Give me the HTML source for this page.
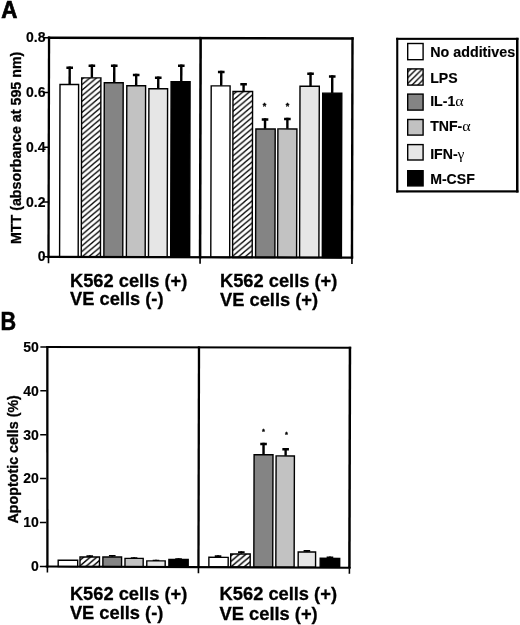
<!DOCTYPE html>
<html><head><meta charset="utf-8"><title>Figure</title>
<style>
html,body{margin:0;padding:0;background:#fff}
svg{display:block}
text{font-family:"Liberation Sans",sans-serif;fill:#000}
.g{font-family:"Liberation Serif","DejaVu Serif",serif;font-weight:normal;font-size:15.5px;stroke:none}
</style></head><body>
<svg width="520" height="625" viewBox="0 0 520 625">
<defs>
<pattern id="hA1" patternUnits="userSpaceOnUse" width="6.57" height="5.57" patternTransform="translate(1.5,2.45)">
<rect width="6.57" height="5.57" fill="#fff"/>
<path d="M-6.57,11.14 L13.14,-5.57 M-6.57,5.57 L6.57,-5.57 M0,11.14 L13.14,0" stroke="#000" stroke-width="1.25" fill="none"/>
</pattern>
<pattern id="hA2" patternUnits="userSpaceOnUse" width="6.57" height="5.57" patternTransform="translate(1.5,0.95)">
<rect width="6.57" height="5.57" fill="#fff"/>
<path d="M-6.57,11.14 L13.14,-5.57 M-6.57,5.57 L6.57,-5.57 M0,11.14 L13.14,0" stroke="#000" stroke-width="1.25" fill="none"/>
</pattern>
<pattern id="hatch" patternUnits="userSpaceOnUse" width="6.6" height="5.6" patternTransform="translate(1.5,0)">
<rect width="6.6" height="5.6" fill="#fff"/>
<path d="M-6.6,11.2 L13.2,-5.6 M-6.6,5.6 L6.6,-5.6 M0,11.2 L13.2,0" stroke="#000" stroke-width="1.45" fill="none"/>
</pattern>
<pattern id="hatch2" patternUnits="userSpaceOnUse" width="5.8" height="5.8" patternTransform="translate(410.1,69.6)">
<rect width="5.8" height="5.8" fill="#fff"/>
<path d="M-5.8,11.6 L11.6,-5.8 M-5.8,5.8 L5.8,-5.8 M0,11.6 L11.6,0" stroke="#000" stroke-width="1.35" fill="none"/>
</pattern>
</defs>
<rect width="520" height="625" fill="#fff"/>
<g transform="rotate(0.14 47.7 36.6)">
<rect x="68.57" y="66.45" width="2.40" height="17.75" fill="#000" />
<rect x="66.47" y="66.45" width="6.60" height="2.40" fill="#000" />
<rect x="60.12" y="84.40" width="18.60" height="172.60" fill="#fff" stroke="#000" stroke-width="1.4"/>
<rect x="90.77" y="64.39" width="2.40" height="13.20" fill="#000" />
<rect x="88.67" y="64.39" width="6.60" height="2.40" fill="#000" />
<rect x="81.80" y="77.79" width="19.20" height="179.21" fill="url(#hA1)" stroke="#000" stroke-width="1.4"/>
<rect x="113.12" y="64.34" width="2.40" height="18.00" fill="#000" />
<rect x="111.02" y="64.34" width="6.60" height="2.40" fill="#000" />
<rect x="104.41" y="82.54" width="18.90" height="174.46" fill="#848484" stroke="#000" stroke-width="1.4"/>
<rect x="135.09" y="73.58" width="2.40" height="11.80" fill="#000" />
<rect x="132.99" y="73.58" width="6.60" height="2.40" fill="#000" />
<rect x="126.92" y="85.58" width="18.80" height="171.42" fill="#c2c2c2" stroke="#000" stroke-width="1.4"/>
<rect x="157.15" y="76.23" width="2.40" height="12.10" fill="#000" />
<rect x="155.05" y="76.23" width="6.60" height="2.40" fill="#000" />
<rect x="149.03" y="88.53" width="18.70" height="168.47" fill="#e6e6e6" stroke="#000" stroke-width="1.4"/>
<rect x="180.17" y="64.17" width="2.40" height="16.90" fill="#000" />
<rect x="178.07" y="64.17" width="6.60" height="2.40" fill="#000" />
<rect x="171.21" y="81.28" width="19.00" height="175.72" fill="#000" stroke="#000" stroke-width="1.4"/>
<rect x="220.13" y="70.33" width="2.40" height="14.95" fill="#000" />
<rect x="218.03" y="70.33" width="6.60" height="2.40" fill="#000" />
<rect x="211.32" y="85.48" width="18.90" height="171.52" fill="#fff" stroke="#000" stroke-width="1.4"/>
<rect x="242.51" y="82.52" width="2.40" height="8.30" fill="#000" />
<rect x="240.41" y="82.52" width="6.60" height="2.40" fill="#000" />
<rect x="233.13" y="91.02" width="19.60" height="165.98" fill="url(#hA2)" stroke="#000" stroke-width="1.4"/>
<rect x="264.05" y="117.72" width="2.40" height="10.50" fill="#000" />
<rect x="261.95" y="117.72" width="6.60" height="2.40" fill="#000" />
<rect x="256.12" y="128.42" width="19.30" height="128.58" fill="#848484" stroke="#000" stroke-width="1.4"/>
<rect x="286.40" y="117.16" width="2.40" height="11.00" fill="#000" />
<rect x="284.30" y="117.16" width="6.60" height="2.40" fill="#000" />
<rect x="278.12" y="128.36" width="19.00" height="128.64" fill="#c2c2c2" stroke="#000" stroke-width="1.4"/>
<rect x="309.44" y="71.86" width="2.40" height="13.50" fill="#000" />
<rect x="307.34" y="71.86" width="6.60" height="2.40" fill="#000" />
<rect x="300.12" y="85.56" width="19.30" height="171.44" fill="#e6e6e6" stroke="#000" stroke-width="1.4"/>
<rect x="331.14" y="74.55" width="2.40" height="17.75" fill="#000" />
<rect x="329.04" y="74.55" width="6.60" height="2.40" fill="#000" />
<rect x="322.84" y="92.50" width="19.10" height="164.50" fill="#000" stroke="#000" stroke-width="1.4"/>
<rect x="47.90" y="36.50" width="305.80" height="2.40" fill="#000" />
<polygon points="47.90,255.80 353.70,255.80 353.70,258.00 47.90,258.00" fill="#000"/>
<polygon points="47.90,36.50 50.20,36.50 50.20,258.00 47.90,258.00" fill="#000"/>
<rect x="351.30" y="36.50" width="2.40" height="221.50" fill="#000" />
<rect x="199.35" y="36.50" width="2.55" height="221.50" fill="#000" />
<rect x="43.20" y="37.05" width="5.20" height="1.50" fill="#000" />
<rect x="43.20" y="91.80" width="5.20" height="1.50" fill="#000" />
<rect x="43.20" y="146.55" width="5.20" height="1.50" fill="#000" />
<rect x="43.20" y="201.30" width="5.20" height="1.50" fill="#000" />
<rect x="43.20" y="256.05" width="5.20" height="1.50" fill="#000" />
<rect x="48.25" y="257.50" width="1.60" height="5.80" fill="#000" />
<rect x="199.82" y="257.50" width="1.60" height="5.80" fill="#000" />
<rect x="351.70" y="257.50" width="1.60" height="5.80" fill="#000" />
</g>
<text x="264.5" y="109.13" font-size="9" text-anchor="middle" font-weight="bold" stroke="#000" stroke-width="0.3">*</text>
<text x="287.5" y="109.13" font-size="9" text-anchor="middle" font-weight="bold" stroke="#000" stroke-width="0.3">*</text>
<text x="45.5" y="42.4" font-size="14" text-anchor="end" font-weight="bold" stroke="#000" stroke-width="0.15" >0.8</text>
<text x="45.5" y="97.14999999999999" font-size="14" text-anchor="end" font-weight="bold" stroke="#000" stroke-width="0.15" >0.6</text>
<text x="45.5" y="151.9" font-size="14" text-anchor="end" font-weight="bold" stroke="#000" stroke-width="0.15" >0.4</text>
<text x="45.5" y="206.65" font-size="14" text-anchor="end" font-weight="bold" stroke="#000" stroke-width="0.15" >0.2</text>
<text x="45.5" y="261.40000000000003" font-size="14" text-anchor="end" font-weight="bold" stroke="#000" stroke-width="0.15" >0</text>
<text x="0" y="0" font-size="14.25" text-anchor="middle" font-weight="bold" stroke="#000" stroke-width="0.3" transform="translate(20.8,147.9) rotate(-90)">MTT (absorbance at 595 nm)</text>
<text x="0" y="0" font-size="22.3" text-anchor="start" font-weight="bold" stroke="#000" stroke-width="0.7" transform="translate(1.3,17.7) scale(1,1.07)">A</text>
<text x="70" y="286.7" font-size="18.3" text-anchor="start" font-weight="bold" stroke="#000" stroke-width="0.3" >K562 cells (+)</text>
<text x="220" y="286.8" font-size="18.3" text-anchor="start" font-weight="bold" stroke="#000" stroke-width="0.3" >K562 cells (+)</text>
<text x="70" y="305.2" font-size="18.3" text-anchor="start" font-weight="bold" stroke="#000" stroke-width="0.3" >VE cells (-)</text>
<text x="220" y="305.9" font-size="18.3" text-anchor="start" font-weight="bold" stroke="#000" stroke-width="0.3" >VE cells (+)</text>
<rect x="396.20" y="37.80" width="122.30" height="2.10" fill="#000" />
<rect x="396.20" y="190.30" width="122.30" height="2.20" fill="#000" />
<rect x="396.20" y="37.80" width="2.10" height="154.70" fill="#000" />
<rect x="516.00" y="37.80" width="2.50" height="154.70" fill="#000" />
<rect x="407.70" y="43.50" width="15.40" height="16.20" fill="#fff" stroke="#000" stroke-width="1.4"/>
<text x="430.2" y="57" font-size="14.3" text-anchor="start" font-weight="bold" stroke="#000" stroke-width="0.15" >No additives</text>
<rect x="407.70" y="68.90" width="15.40" height="16.20" fill="url(#hatch2)" stroke="#000" stroke-width="1.4"/>
<text x="430.2" y="83.25" font-size="14.1" text-anchor="start" font-weight="bold" stroke="#000" stroke-width="0.15" >LPS</text>
<rect x="407.70" y="94.10" width="15.40" height="16.00" fill="#848484" stroke="#000" stroke-width="1.4"/>
<text x="430.2" y="105.8" font-size="14.1" text-anchor="start" font-weight="bold" stroke="#000" stroke-width="0.15" >IL-1<tspan class="g" textLength="8.4" lengthAdjust="spacingAndGlyphs">α</tspan></text>
<rect x="407.70" y="119.50" width="15.40" height="15.60" fill="#c2c2c2" stroke="#000" stroke-width="1.4"/>
<text x="430.2" y="131.1" font-size="14.1" text-anchor="start" font-weight="bold" stroke="#000" stroke-width="0.15" >TNF-<tspan class="g" textLength="8.4" lengthAdjust="spacingAndGlyphs">α</tspan></text>
<rect x="407.70" y="144.60" width="15.40" height="15.40" fill="#e6e6e6" stroke="#000" stroke-width="1.4"/>
<text x="430.2" y="159.3" font-size="14.1" text-anchor="start" font-weight="bold" stroke="#000" stroke-width="0.15" >IFN-<tspan class="g">γ</tspan></text>
<rect x="407.70" y="170.70" width="15.40" height="15.20" fill="#000" stroke="#000" stroke-width="1.4"/>
<text x="430.2" y="184" font-size="14.1" text-anchor="start" font-weight="bold" stroke="#000" stroke-width="0.15" >M-CSF</text>
<g transform="rotate(0.14 46.2 346.2)">
<rect x="67.57" y="559.95" width="1.80" height="0.00" fill="#000" />
<rect x="65.17" y="559.95" width="6.60" height="1.70" fill="#000" />
<rect x="58.72" y="560.15" width="19.50" height="6.45" fill="#fff" stroke="#000" stroke-width="1.4"/>
<rect x="89.36" y="555.09" width="1.80" height="1.60" fill="#000" />
<rect x="86.96" y="555.09" width="6.60" height="1.70" fill="#000" />
<rect x="80.51" y="556.89" width="19.50" height="9.71" fill="url(#hatch)" stroke="#000" stroke-width="1.4"/>
<rect x="111.86" y="554.74" width="1.80" height="1.90" fill="#000" />
<rect x="109.46" y="554.74" width="6.60" height="1.70" fill="#000" />
<rect x="103.41" y="556.84" width="18.70" height="9.76" fill="#848484" stroke="#000" stroke-width="1.4"/>
<rect x="133.72" y="557.08" width="1.80" height="0.90" fill="#000" />
<rect x="131.32" y="557.08" width="6.60" height="1.70" fill="#000" />
<rect x="125.52" y="558.18" width="18.20" height="8.42" fill="#c2c2c2" stroke="#000" stroke-width="1.4"/>
<rect x="155.62" y="559.53" width="1.80" height="0.90" fill="#000" />
<rect x="153.22" y="559.53" width="6.60" height="1.70" fill="#000" />
<rect x="147.32" y="560.63" width="18.40" height="5.97" fill="#e6e6e6" stroke="#000" stroke-width="1.4"/>
<rect x="178.17" y="557.88" width="1.80" height="1.10" fill="#000" />
<rect x="175.77" y="557.88" width="6.60" height="1.70" fill="#000" />
<rect x="169.42" y="559.18" width="19.30" height="7.42" fill="#000" stroke="#000" stroke-width="1.4"/>
<rect x="217.66" y="554.78" width="1.80" height="1.90" fill="#000" />
<rect x="215.26" y="554.78" width="6.60" height="1.70" fill="#000" />
<rect x="209.41" y="556.88" width="19.30" height="9.72" fill="#fff" stroke="#000" stroke-width="1.4"/>
<rect x="240.95" y="550.82" width="1.80" height="2.50" fill="#000" />
<rect x="238.55" y="550.82" width="6.60" height="1.70" fill="#000" />
<rect x="231.21" y="553.52" width="19.50" height="13.08" fill="url(#hatch)" stroke="#000" stroke-width="1.4"/>
<rect x="262.59" y="442.27" width="2.40" height="11.70" fill="#000" />
<rect x="260.49" y="442.27" width="6.60" height="2.40" fill="#000" />
<rect x="254.36" y="454.17" width="18.90" height="112.43" fill="#848484" stroke="#000" stroke-width="1.4"/>
<rect x="284.70" y="447.41" width="2.40" height="7.70" fill="#000" />
<rect x="282.60" y="447.41" width="6.60" height="2.40" fill="#000" />
<rect x="276.37" y="455.32" width="18.30" height="111.28" fill="#c2c2c2" stroke="#000" stroke-width="1.4"/>
<rect x="306.50" y="549.36" width="1.80" height="1.80" fill="#000" />
<rect x="304.10" y="549.36" width="6.60" height="1.70" fill="#000" />
<rect x="298.70" y="551.36" width="17.40" height="15.24" fill="#e6e6e6" stroke="#000" stroke-width="1.4"/>
<rect x="329.56" y="555.91" width="1.80" height="1.50" fill="#000" />
<rect x="327.16" y="555.91" width="6.60" height="1.70" fill="#000" />
<rect x="320.72" y="557.61" width="19.50" height="8.99" fill="#000" stroke="#000" stroke-width="1.4"/>
<rect x="46.20" y="346.00" width="305.00" height="2.00" fill="#000" />
<polygon points="46.20,565.40 351.20,565.95 351.20,568.05 46.20,567.50" fill="#000"/>
<polygon points="46.20,346.00 48.50,346.00 49.10,567.50 46.80,567.50" fill="#000"/>
<rect x="348.70" y="346.00" width="2.50" height="221.50" fill="#000" />
<rect x="197.85" y="346.00" width="2.30" height="221.50" fill="#000" />
<rect x="40.40" y="346.15" width="6.30" height="1.50" fill="#000" />
<rect x="40.40" y="390.05" width="6.30" height="1.50" fill="#000" />
<rect x="40.40" y="433.95" width="6.30" height="1.50" fill="#000" />
<rect x="40.40" y="477.85" width="6.30" height="1.50" fill="#000" />
<rect x="40.40" y="521.75" width="6.30" height="1.50" fill="#000" />
<rect x="40.40" y="565.65" width="6.30" height="1.50" fill="#000" />
<rect x="47.15" y="567.00" width="1.60" height="5.50" fill="#000" />
<rect x="198.20" y="567.27" width="1.60" height="5.50" fill="#000" />
<rect x="349.15" y="567.55" width="1.60" height="5.50" fill="#000" />
</g>
<text x="263.5" y="434.12" font-size="7.5" text-anchor="middle" font-weight="bold" stroke="#000" stroke-width="0.3">*</text>
<text x="286.5" y="436.82" font-size="7.5" text-anchor="middle" font-weight="bold" stroke="#000" stroke-width="0.3">*</text>
<text x="38.8" y="351.7" font-size="14" text-anchor="end" font-weight="bold" stroke="#000" stroke-width="0.15" >50</text>
<text x="38.8" y="395.59999999999997" font-size="14" text-anchor="end" font-weight="bold" stroke="#000" stroke-width="0.15" >40</text>
<text x="38.8" y="439.5" font-size="14" text-anchor="end" font-weight="bold" stroke="#000" stroke-width="0.15" >30</text>
<text x="38.8" y="483.4" font-size="14" text-anchor="end" font-weight="bold" stroke="#000" stroke-width="0.15" >20</text>
<text x="38.8" y="527.3" font-size="14" text-anchor="end" font-weight="bold" stroke="#000" stroke-width="0.15" >10</text>
<text x="38.8" y="571.1999999999999" font-size="14" text-anchor="end" font-weight="bold" stroke="#000" stroke-width="0.15" >0</text>
<text x="0" y="0" font-size="14.25" text-anchor="middle" font-weight="bold" stroke="#000" stroke-width="0.3" transform="translate(18.1,459.3) rotate(-90)">Apoptotic cells (%)</text>
<text x="0" y="0" font-size="23.3" text-anchor="start" font-weight="bold" stroke="#000" stroke-width="0.5" transform="translate(0.5,330.4) scale(0.93,1.08)">B</text>
<text x="69.9" y="600.4" font-size="18.3" text-anchor="start" font-weight="bold" stroke="#000" stroke-width="0.3" >K562 cells (+)</text>
<text x="219.6" y="600.4" font-size="18.3" text-anchor="start" font-weight="bold" stroke="#000" stroke-width="0.3" >K562 cells (+)</text>
<text x="69.9" y="619.3" font-size="18.3" text-anchor="start" font-weight="bold" stroke="#000" stroke-width="0.3" >VE cells (-)</text>
<text x="219.6" y="619.8" font-size="18.3" text-anchor="start" font-weight="bold" stroke="#000" stroke-width="0.3" >VE cells (+)</text>
</svg>
</body></html>
